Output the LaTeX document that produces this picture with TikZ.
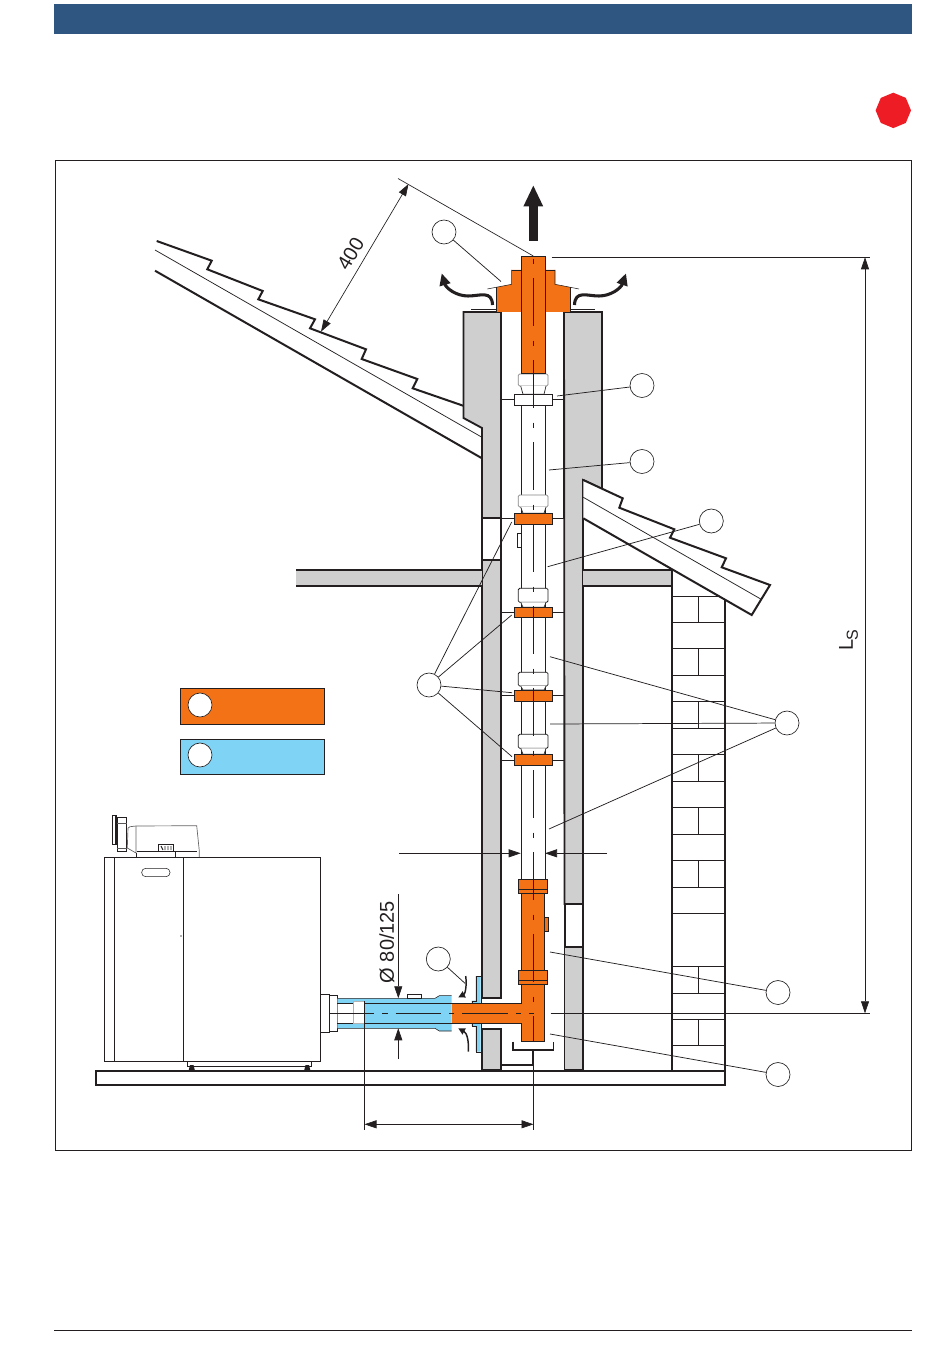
\documentclass[tikz,border=0pt]{standalone}
\usepackage{fontspec}
\setmainfont{Liberation Sans}
\usetikzlibrary{arrows.meta}
\definecolor{hdr}{HTML}{2F5681}
\definecolor{stopred}{HTML}{EE1C25}
\definecolor{fluor}{HTML}{F47216}
\definecolor{skyb}{HTML}{7FD3F4}
\definecolor{wallg}{HTML}{CFCFCF}
\definecolor{ink}{HTML}{231F20}
\tikzset{
  thickln/.style={draw=ink,line width=1.5pt,line join=miter},
  thinln/.style={draw=ink,line width=0.55pt},
  wallfill/.style={fill=wallg,draw=ink,line width=1.4pt},
  pipeor/.style={fill=fluor,draw=ink,line width=0.5pt},
  pipewh/.style={fill=white,draw=ink,line width=0.5pt},
  ctrline/.style={draw=ink,line width=0.5pt,dash pattern=on 36pt off 11pt on 4pt off 10.5pt,dash phase=39pt},
  callout/.style={circle,draw=ink,fill=white,line width=0.5pt,minimum size=18pt,inner sep=0pt},
  dima/.style={draw=ink,line width=0.5pt,-{Triangle[length=9pt,width=6pt]}},
  dimb/.style={draw=ink,line width=0.5pt,{Triangle[length=9pt,width=6pt]}-{Triangle[length=9pt,width=6pt]}},
  flowarrow/.style={draw=ink,line width=2.3pt,-{Triangle[length=9pt,width=8pt]}},
  bendarrow/.style={draw=ink,line width=1.1pt,-{Triangle[length=5pt,width=5pt]}},
  dimtext/.style={font=\fontsize{15}{15}\selectfont,text=ink,inner sep=0pt}
}
\begin{document}
\begin{tikzpicture}[x=0.75pt,y=-0.75pt]
\useasboundingbox (0,0) rectangle (950,1369);
% page furniture
\fill[hdr] (54,4) rectangle (912,34);
\fill[stopred] (893.3,92.7) -- (905.8,97.9) -- (911,110.4) -- (905.8,122.9) -- (893.3,128.1) -- (880.8,122.9) -- (875.6,110.4) -- (880.8,97.9) -- cycle;
\draw[ink,line width=0.7pt] (55,160.5) rectangle (911,1150);
\draw[ink,line width=0.6pt] (54,1330.5) -- (912,1330.5);

% left roof
\draw[thickln] (156.7,241) -- (211.7,260.7) -- (207.3,269.3) -- (262.7,291) -- (258.3,299.3) -- (315,319.3) -- (310,328.3) -- (366,349.3) -- (361.7,359) -- (417.3,379) -- (412.7,388.3) -- (464,406);
\draw[thinln] (155,250) -- (482,437.3);
\draw[thickln] (155,270.7) -- (482,458.3);

% chimney walls
\draw[wallfill] (463.5,312) -- (501,312) -- (501,518) -- (482,518) -- (482,428) -- (463.5,418) -- cycle;
\draw[thickln,fill=white] (482,518) rectangle (501,560);
\draw[wallfill] (482,560) -- (501,560) -- (501,998) -- (482,998) -- cycle;
\draw[wallfill] (482,1029) -- (501,1029) -- (501,1070) -- (482,1070) -- cycle;
\draw[wallfill] (564,312) -- (602,312) -- (602,489) -- (583,480) -- (583,904) -- (564.5,904) -- cycle;
\draw[thickln,fill=white] (564.5,904) rectangle (583,947);
\draw[wallfill] (564.5,947) -- (583,947) -- (583,1070) -- (564.5,1070) -- cycle;

% floors
\fill[wallg] (296,570) rectangle (482,586);
\draw[thickln] (296,570) -- (482,570) (296,586) -- (482,586);
\fill[wallg] (583,570) rectangle (672,586);
\draw[thickln] (583,570) -- (672,570) -- (672,586) -- (583,586);

% brick gable
\draw[thickln] (672,570) -- (672,1071) (725,598) -- (725,1071);
\foreach \yy in {596,622,648,675,701,728,754,781,807,834,860,887,913,966.7,993,1019,1045}
  \draw[thinln,line width=0.7pt] (672,\yy) -- (725,\yy);
\foreach \yy/\zz in {596/622,648/675,701/728,754/781,807/834,860/887,966.7/993,1019/1045}
  \draw[thinln,line width=0.7pt] (698,\yy) -- (698,\zz);

% right roof
\fill[white] (583.3,480) -- (622.7,498.3) -- (619.3,507.7) -- (674.3,529.3) -- (670,537.7) -- (726,558.3) -- (721.7,567.3) -- (770,585) -- (751.7,615) -- (583.3,518.3) -- cycle;
\draw[thickln] (583.3,480) -- (622.7,498.3) -- (619.3,507.7) -- (674.3,529.3) -- (670,537.7) -- (726,558.3) -- (721.7,567.3) -- (770,585) -- (751.7,615) -- (583.3,518.3);
\draw[thinln] (583.3,497.3) -- (760.7,599);

% base slab
\draw[thickln] (725,1071) -- (96,1071) -- (96,1085) -- (725,1085) -- cycle;

% boiler
\draw[ink,line width=0.7pt] (104,857.3) rectangle (320.7,1061.7);
\draw[ink,line width=0.6pt] (114.3,857.3) -- (114.3,1061.7) (183.3,857.3) -- (183.3,1061.7);
\draw[ink,line width=0.4pt,rounded corners=3pt] (141.7,868.3) rectangle (170,876.7);
\fill[ink!70] (181,936) circle (0.9);
\draw[ink,line width=0.4pt] (187.3,1061.7) -- (187.3,1066) -- (311.7,1066) -- (311.7,1061.7);
\fill[ink] (188.5,1071) -- (190,1065) -- (193.5,1065) -- (195,1071) -- cycle;
\fill[ink] (304,1071) -- (305.5,1065) -- (309,1065) -- (310.5,1071) -- cycle;
% burner
\draw[ink!70,line width=0.5pt] (127.3,848) -- (128,828) -- (130,826.7) -- (136,826) -- (196.7,825.7) -- (199.3,851) -- (199.3,857);
\draw[ink!70,line width=0.5pt] (136,826) -- (136,853) -- (127.3,848);
\draw[ink,line width=0.6pt] (136.7,853) -- (136.7,857) (136.7,851.7) -- (196.7,851.7) (175,851) -- (175,857);
\draw[ink,line width=0.6pt] (117,817.7) rectangle (126.7,851.7);
\draw[ink!75,line width=0.4pt] (117,823) -- (126.7,823) (117,848) -- (126.7,848);
\draw[ink,line width=1.1pt] (112.7,815.7) rectangle (116,844.3);
\draw[ink,line width=0.6pt] (158.3,844.3) rectangle (173.3,851.7);
\draw[ink,line width=0.7pt] (161,846) -- (163,850) (165,846) -- (165,850) (168,846) -- (168,850) (171,846) -- (171,850);

% boiler outlet
\draw[ink,line width=0.5pt,fill=white] (320.7,994.3) rectangle (329.3,1032.3);
\draw[ink,line width=0.5pt,fill=white] (329.3,995.6) rectangle (337.3,1031);

% blue adapter
\fill[skyb] (337.3,998.3) -- (435,998.3) -- (439.3,995.7) -- (451.7,995.7) -- (451.7,1031) -- (439.3,1031) -- (435,1028.3) -- (337.3,1028.3) -- cycle;
\draw[ink,line width=0.4pt] (337.3,998.3) -- (435,998.3) -- (439.3,995.7) -- (451.7,995.7);
\draw[ink,line width=0.4pt] (337.3,1028.3) -- (435,1028.3) -- (439.3,1031) -- (451.7,1031);
\draw[ink,line width=0.4pt] (337.3,1003.3) -- (353.3,1003.3) (364,1003.3) -- (451.7,1003.3) (337.3,1023.3) -- (451.7,1023.3);
\fill[white] (337.5,1003.6) rectangle (354,1023);
\draw[ink!35,line width=0.4pt,fill=white] (353.3,1001.7) rectangle (364,1023.6);
\draw[ink,line width=0.4pt,fill=white] (407.3,994.3) rectangle (421.7,998.3);

% wall plate
\draw[fill=skyb,draw=ink,line width=0.3pt] (475.7,976) -- (480.7,976) -- (480.7,1003.3) -- (471.7,1003.3) -- (471.7,1000.7) -- (475.7,1000.7) -- cycle;
\draw[fill=skyb,draw=ink,line width=0.3pt] (475.7,1051.7) -- (480.7,1051.7) -- (480.7,1023.3) -- (471.7,1023.3) -- (471.7,1026) -- (475.7,1026) -- cycle;

% support bracket
\draw[thickln,line width=1.2pt] (512.7,1041.7) -- (512.7,1050) -- (553.3,1050) -- (553.3,1041.7);
\draw[thickln,line width=1.2pt] (532.7,1050) -- (532.7,1065) -- (501.7,1065);

% flue pipe (white section)
\draw[pipewh] (521.5,400) rectangle (545,880);

% connectors with necks and clips
\foreach \a/\b/\c/\t in {374/386/394.3/55,495/507/513.3/55,588.3/602.3/607.3/100,672.3/686/690/100,734.3/748.3/754.3/100}{
  \draw[pipewh,draw=ink!\t,rounded corners=1pt,line width=0.6pt] (518.3,\a) rectangle (548,\b);
  \draw[pipewh] (520.7,\b) -- (523,\c) -- (544,\c) -- (546,\b);
}
\draw[pipewh] (514.3,394.3) rectangle (552.3,405.7);
\draw[thinln] (501.5,399.5) -- (514.3,399.5) (552.3,399.5) -- (564,399.5);
\foreach \c/\d in {513.3/524.3,607.3/617.7,690/701.7,754.3/765.7}{
  \draw[pipeor] (514.3,\c) rectangle (552.3,\d);
  \draw[thinln] (501.5,{(\c+\d)/2}) -- (514.3,{(\c+\d)/2}) (552.3,{(\c+\d)/2}) -- (564,{(\c+\d)/2});
}
\draw[pipewh] (517.3,533.3) rectangle (521.3,547.3);

% terminal
\fill[fluor] (511.7,270) -- (555,270) -- (555,284.3) -- (570.7,287.3) -- (570.7,312) -- (496,312) -- (496,287.3) -- (511.7,284.3) -- cycle;
\draw[pipeor] (521.3,256.3) rectangle (545.7,373.7);
\draw[ink,line width=0.4pt] (511.7,270) -- (521.3,270) (545.7,270) -- (555,270);
\draw[ink,line width=0.4pt] (487.3,289) -- (511.7,284.3) -- (511.7,270) (579,289) -- (555,284.3) -- (555,270);
\draw[ink,line width=0.5pt] (471,309.3) -- (496,309.3) (570.7,309.3) -- (595,309.3);
\draw[ink,line width=0.4pt] (496,287.3) -- (496,312) (570.7,287.3) -- (570.7,312);

% lower orange tee
\fill[fluor] (451.7,1003.3) rectangle (521.7,1023.3);
\draw[ink,line width=0.4pt] (451.7,1003.3) -- (521.7,1003.3) (451.7,1023.3) -- (521.7,1023.3);
\draw[pipeor] (521.7,893) rectangle (544.3,1041.7);
\fill[fluor] (519,1003.8) rectangle (523,1022.8);
\draw[pipeor] (518.3,879.3) rectangle (547.7,893.3);
\draw[pipeor] (518.3,970) rectangle (547.7,984.3);
\draw[ink,line width=0.4pt] (518.3,889) -- (547.7,889) (518.3,980) -- (547.7,980);
\draw[pipeor] (544.3,917.3) rectangle (548.7,931.7);

% centre lines
\draw[ctrline] (533.5,248) -- (533.5,1041);
\draw[ink,line width=0.5pt] (533.5,1050) -- (533.5,1130);
\draw[ink,line width=0.5pt,dash pattern=on 34pt off 6pt on 4pt off 6pt] (329,1013.3) -- (533.5,1013.3);
\draw[thinln] (550.5,1013.3) -- (870,1013.3);
\draw[thinln] (551.5,257.3) -- (870,257.3);

% flow arrows
\draw[flowarrow,line width=6.8pt,-{Triangle[length=16pt,width=13.5pt]}] (533.3,240.7) -- (533.3,185);
\draw[flowarrow] (492.5,305) .. controls (492,290) and (480,296) .. (468,296) .. controls (456,296) and (446,288) .. (441.7,273.3);
\draw[flowarrow] (574.5,305) .. controls (575,290) and (587,296) .. (599,296) .. controls (611,296) and (621,288) .. (626,273.3);
\draw[bendarrow] (465.7,976) .. controls (467,986) and (465,994) .. (458.3,997.3);
\draw[bendarrow] (468.3,1051.7) .. controls (469,1041) and (467,1033) .. (458.3,1028.3);

% dimensions
\coordinate (dzT) at (399,853.3);
\coordinate (dzL) at (520.7,853.3);
\coordinate (dzU) at (607,853.3);
\coordinate (dzR) at (545,853.3);
\draw[dima] (dzT) -- (dzL);
\draw[dima] (dzU) -- (dzR);
\coordinate (duA) at (398.3,894.3);
\coordinate (duB) at (398.3,998.3);
\coordinate (duC) at (398.3,1059);
\coordinate (duD) at (398.3,1028.3);
\draw[dima] (duA) -- (duB);
\draw[dima] (duC) -- (duD);
\node[dimtext,rotate=90] (dia) at (387,942) {Ø 80/125};
\coordinate (wL) at (364.5,1124.3);
\coordinate (wR) at (533.5,1124.3);
\draw[dimb] (wL) -- (wR);
\coordinate (eL) at (364.3,1001);
\coordinate (eLb) at (364.3,1130);
\draw[ink,line width=0.5pt] (eL) -- (eLb);
\coordinate (lsT) at (865,257.3);
\coordinate (lsB) at (865,1013.3);
\draw[dimb] (lsT) -- (lsB);
\node[dimtext,rotate=90] (ls) at (848.5,640) {L\kern-0.5pt\raisebox{-3.75pt}{\fontsize{12}{12}\selectfont S}};
\coordinate (hA) at (398,178.5);
\coordinate (hB) at (533.3,256);
\draw[ink,line width=0.5pt] (hA) -- (hB);
\coordinate (rA) at (408.5,184);
\coordinate (rB) at (321,331.7);
\draw[dimb] (rA) -- (rB);
\node[dimtext,rotate=59] (four) at (350.5,254) {400};

% legend
\node[draw=ink,fill=fluor,line width=0.5pt,minimum width=108pt,minimum height=27pt,inner sep=0pt] (lgO) at (252,706) {};
\node[draw=ink,fill=skyb,line width=0.5pt,minimum width=108pt,minimum height=26.5pt,inner sep=0pt] (lgB) at (252,756.5) {};
\node[callout] (mO) at (200,705) {};
\node[callout] (mB) at (200,755) {};

% callouts
\node[callout] (c1) at (444,232) {};
\node[callout] (c2) at (642,385.5) {};
\node[callout] (c3) at (642,461.5) {};
\node[callout] (c4) at (711.3,521) {};
\node[callout] (c5) at (429,685) {};
\node[callout] (c6) at (787,723) {};
\node[callout] (c7) at (778,992.5) {};
\node[callout] (c8) at (778,1074.5) {};
\node[callout] (c9) at (438.3,959) {};
\coordinate (e1) at (501,281.5);
\coordinate (e2) at (557,396);
\coordinate (e3) at (549,470);
\coordinate (e4) at (547.7,566.7);
\coordinate (e5a) at (511.7,522);
\coordinate (e5b) at (511.7,615);
\coordinate (e5c) at (512,692.7);
\coordinate (e5d) at (512,756.7);
\coordinate (e6a) at (550,656.7);
\coordinate (e6b) at (550,724);
\coordinate (e6c) at (549,829);
\coordinate (e7) at (550,952);
\coordinate (e8) at (550,1034);
\coordinate (e9) at (465,983.3);
\draw[thinln] (c1) -- (e1);
\draw[thinln] (c2) -- (e2);
\draw[thinln] (c3) -- (e3);
\draw[thinln] (c4) -- (e4);
\draw[thinln] (c5) -- (e5a);
\draw[thinln] (c5) -- (e5b);
\draw[thinln] (c5) -- (e5c);
\draw[thinln] (c5) -- (e5d);
\draw[thinln] (c6) -- (e6a);
\draw[thinln] (c6) -- (e6b);
\draw[thinln] (c6) -- (e6c);
\draw[thinln] (c7) -- (e7);
\draw[thinln] (c8) -- (e8);
\draw[thinln] (c9) -- (e9);
\end{tikzpicture}
\end{document}
